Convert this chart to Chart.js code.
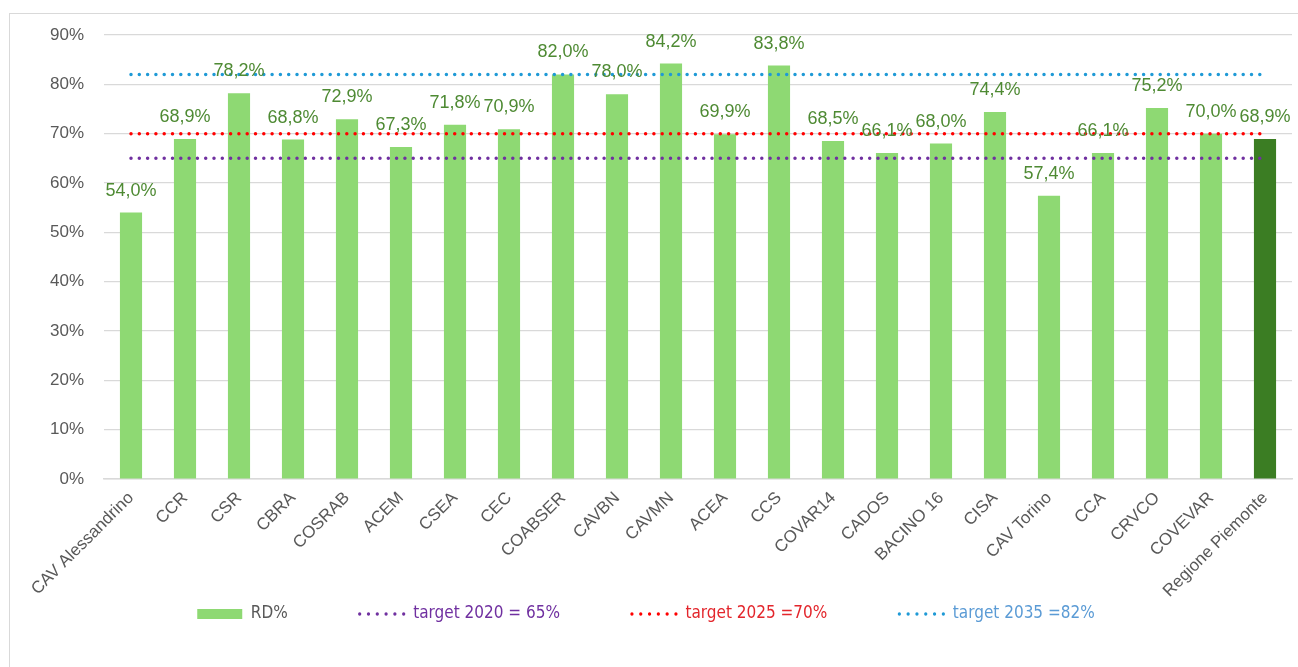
<!DOCTYPE html>
<html>
<head>
<meta charset="utf-8">
<script src="https://cdn.jsdelivr.net/npm/chart.js@4.4.1/dist/chart.umd.min.js"></script>
<style>
  html, body { margin: 0; padding: 0; background: #fff; overflow: hidden; }
  #frame { position: absolute; left: 9px; top: 13px; width: 1300px; height: 700px; border: 1px solid #d9d9d9; }
  #wrap { position: absolute; left: 0; top: 0; width: 1298px; height: 667px; }
</style>
</head>
<body>
<div id="frame"></div>
<div id="wrap"><canvas id="chart" width="1298" height="667"></canvas></div>
<script>
// Raccolta differenziata per consorzio
const consorzi = ['CAV Alessandrino', 'CCR', 'CSR', 'CBRA', 'COSRAB', 'ACEM', 'CSEA', 'CEC',
  'COABSER', 'CAVBN', 'CAVMN', 'ACEA', 'CCS', 'COVAR14', 'CADOS', 'BACINO 16', 'CISA',
  'CAV Torino', 'CCA', 'CRVCO', 'COVEVAR', 'Regione Piemonte'];
const rd = [54.0, 68.9, 78.2, 68.8, 72.9, 67.3, 71.8, 70.9, 82.0, 78.0, 84.2, 69.9, 83.8,
  68.5, 66.1, 68.0, 74.4, 57.4, 66.1, 75.2, 70.0, 68.9];
const target2020 = [65, 65, 65, 65, 65, 65, 65, 65, 65, 65, 65, 65, 65, 65, 65, 65, 65, 65, 65, 65, 65, 65];
const target2025 = [70, 70, 70, 70, 70, 70, 70, 70, 70, 70, 70, 70, 70, 70, 70, 70, 70, 70, 70, 70, 70, 70];
const target2035 = [82, 82, 82, 82, 82, 82, 82, 82, 82, 82, 82, 82, 82, 82, 82, 82, 82, 82, 82, 82, 82, 82];
const yMax = 90;
const yStep = 10;

const LIGHT = '#8ed973';
const DARK = '#3b7d23';
const GRID = '#d9d9d9';
const TEXT = '#595959';
const pct = (v) => v.toFixed(1).replace('.', ',') + '%';

// value labels above the bars, like Excel's outside-end labels
const barLabels = {
  id: 'barLabels',
  afterDatasetsDraw(chart) {
    const { ctx } = chart;
    ctx.save();
    ctx.font = '18px "Liberation Sans", Arial, sans-serif';
    ctx.fillStyle = '#4e8a33';
    ctx.textAlign = 'center';
    ctx.textBaseline = 'alphabetic';
    chart.getDatasetMeta(0).data.forEach((bar, i) => ctx.fillText(pct(rd[i]), bar.x, bar.y - 17));
    ctx.restore();
  }
};

// Excel lets the legend sit beside the slanted labels; the legend only reserves 1px
// and gets moved up into the label band once the layout is done.
const legendUp = {
  id: 'legendUp',
  afterLayout(chart) {
    const lg = chart.legend;
    if (!lg) return;
    lg.top = 533.5;
    lg.height = 110;
    lg.bottom = lg.top + lg.height;
  }
};

const dotted = (label, data, color) => ({
  type: 'line', label, data, order: 1,
  borderColor: color, borderWidth: 3.5, borderDash: [0, 8.3], borderCapStyle: 'round',
  pointRadius: 0, fill: false
});

const legendText = [TEXT, '#7030a0', '#e3262c', '#5b9bd5'];

new Chart(document.getElementById('chart'), {
  type: 'bar',
  data: {
    labels: consorzi,
    datasets: [
      { label: 'RD%', data: rd, order: 2,
        backgroundColor: (c) => c.dataIndex === consorzi.length - 1 ? DARK : LIGHT,
        barPercentage: 0.41, categoryPercentage: 1 },
      dotted('target 2020 = 65%', target2020, '#7030a0'),
      dotted('target 2025 =70%', target2025, '#ff0000'),
      dotted('target 2035 =82%', target2035, '#1f9ad6')
    ]
  },
  plugins: [barLabels, legendUp],
  options: {
    responsive: false, devicePixelRatio: 1, animation: false,
    layout: { padding: { top: 35, left: 0, right: 6, bottom: 0 } },
    plugins: {
      tooltip: { enabled: false },
      legend: {
        position: 'bottom', maxHeight: 1,
        labels: {
          usePointStyle: true, pointStyleWidth: 45, boxHeight: 10, padding: 72,
          font: { size: 17, family: '"DejaVu Sans Condensed", "Liberation Sans Narrow", sans-serif' },
          generateLabels: (chart) => chart.data.datasets.map((ds, i) => ({
            text: ds.label, datasetIndex: i, hidden: false,
            fontColor: legendText[i],
            pointStyle: ds.type === 'line' ? 'line' : 'rect',
            fillStyle: ds.type === 'line' ? 'rgba(0,0,0,0)' : LIGHT,
            strokeStyle: ds.type === 'line' ? ds.borderColor : LIGHT,
            lineWidth: ds.type === 'line' ? 3.3 : 0,
            lineDash: ds.type === 'line' ? [0, 8.8] : [],
            lineCap: 'round'
          }))
        }
      }
    },
    scales: {
      x: {
        grid: { display: false },
        border: { color: GRID, width: 1.5 },
        ticks: { color: TEXT, font: { size: 17, family: '"Liberation Sans", Arial, sans-serif' },
          maxRotation: 45, minRotation: 45, autoSkip: false, padding: 1 },
        afterFit: (s) => { s.height = 187; }
      },
      y: {
        min: 0, max: yMax,
        grid: { color: GRID, lineWidth: 1.2, drawTicks: false },
        border: { display: false },
        ticks: { stepSize: yStep, color: TEXT, padding: 20,
          font: { size: 17, family: '"Liberation Sans", Arial, sans-serif' },
          callback: (v) => v + '%' },
        afterFit: (s) => { s.width = 104; }
      }
    }
  }
});
</script>
</body>
</html>
